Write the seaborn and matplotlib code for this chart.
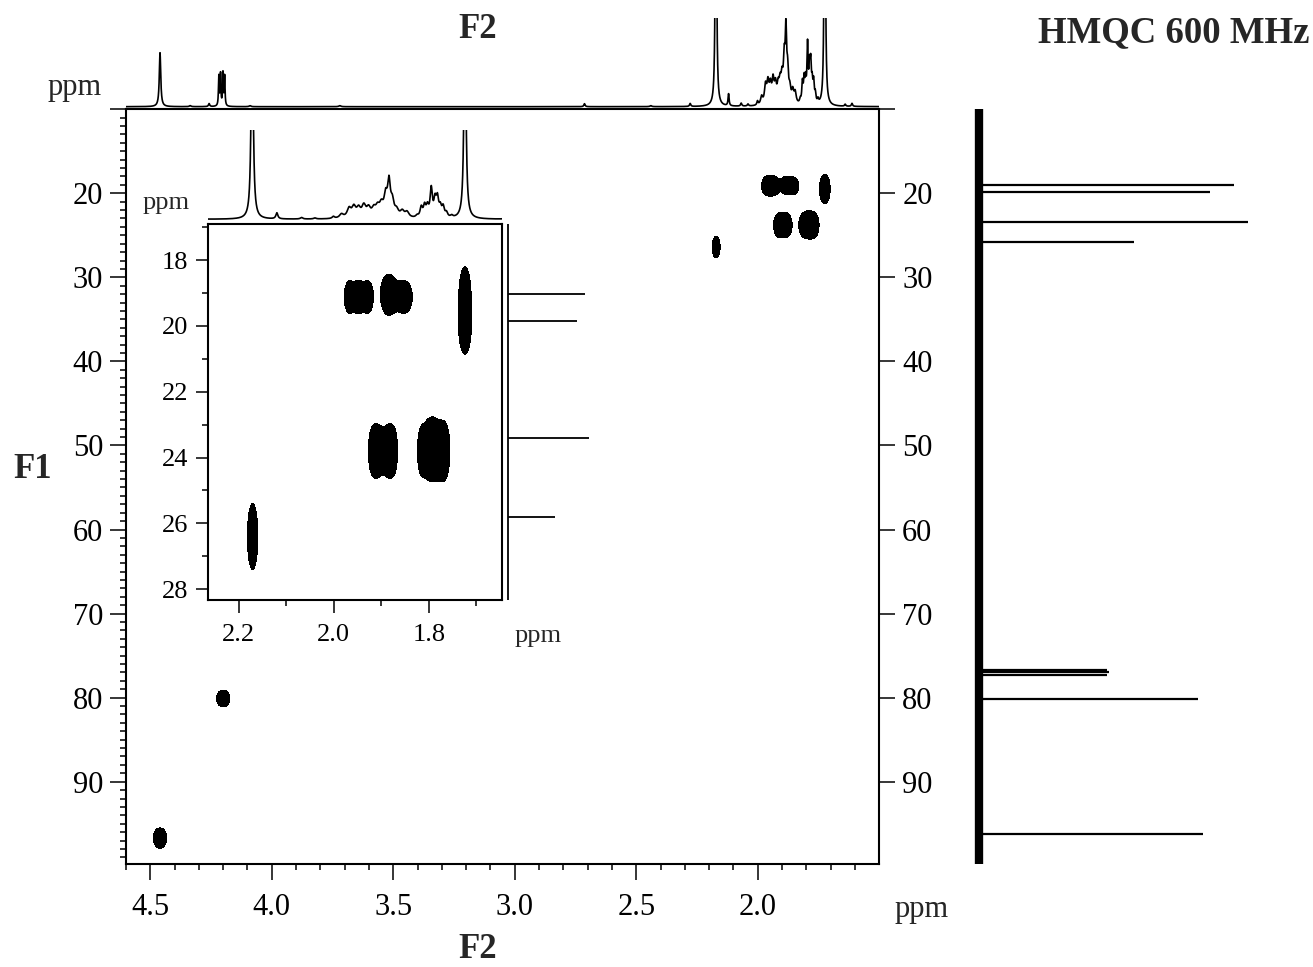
import numpy as np
import pandas as pd
import seaborn as sns
import matplotlib.pyplot as plt
from matplotlib.ticker import FixedLocator, MultipleLocator

# 1H projection: peak position (ppm), height (px of the main trace), half width (ppm)
h1_ppm = [4.460, 4.336, 4.258, 4.218, 4.211, 4.201, 4.194, 4.090, 3.720, 2.713, 2.440,
          2.278, 2.172, 2.120, 2.068, 2.040, 2.001, 1.984, 1.968, 1.958, 1.948, 1.937,
          1.927, 1.916, 1.908, 1.900, 1.891, 1.884, 1.877, 1.868, 1.856, 1.846, 1.825,
          1.816, 1.809, 1.803, 1.795, 1.787, 1.782, 1.776, 1.770, 1.763, 1.752, 1.724,
          1.640, 1.612]
h1_height = [54, 1, 3, 30, 32, 33, 30, 1, 1, 3, 1,
             3, 500, 12, 3, 2, 4, 8, 18, 20, 17, 22,
             17, 15, 17, 22, 38, 66, 28, 13, 12, 11, 4,
             20, 22, 20, 56, 32, 35, 18, 20, 9, 4, 500,
             2, 3]
h1_hwhm = [0.0035, 0.004, 0.003, 0.0018, 0.0018, 0.0018, 0.0018, 0.004, 0.005, 0.003, 0.004,
           0.003, 0.0022, 0.0025, 0.003, 0.003, 0.003, 0.005, 0.005, 0.005, 0.005, 0.005,
           0.005, 0.005, 0.005, 0.005, 0.004, 0.0035, 0.004, 0.005, 0.005, 0.005, 0.003,
           0.003, 0.003, 0.003, 0.0028, 0.003, 0.003, 0.003, 0.003, 0.003, 0.003, 0.0022,
           0.003, 0.003]

# 13C projection lines (ppm, length in px of the main trace)
c13_ppm = [19.02, 19.86, 23.42, 25.80, 76.75, 77.0, 77.25, 80.2, 96.2]
c13_height = [255, 231, 269, 155, 128, 130, 128, 219, 224]

# HMQC cross peaks: 1H ppm, 13C ppm, half extents (ppm)
cross_h = [4.460, 4.200, 2.171,
           1.968, 1.948, 1.928, 1.885, 1.850,
           1.918, 1.905, 1.888, 1.875,
           1.815, 1.800, 1.788, 1.775, 1.765,
           1.724, 1.724]
cross_c = [96.7, 80.1, 26.4,
           19.12, 19.12, 19.12, 19.05, 19.12,
           23.8, 23.8, 23.8, 23.8,
           23.8, 23.75, 23.75, 23.8, 23.8,
           18.9, 20.0]
cross_wh = [0.025, 0.025, 0.011,
            0.010, 0.010, 0.010, 0.017, 0.015,
            0.009, 0.009, 0.009, 0.009,
            0.009, 0.009, 0.009, 0.009, 0.009,
            0.010, 0.013]
cross_wc = [0.9, 0.6, 1.0,
            0.47, 0.47, 0.47, 0.62, 0.47,
            0.68, 0.68, 0.68, 0.68,
            0.7, 0.78, 0.78, 0.7, 0.7,
            0.65, 0.85]

W, H = 1313, 967
sns.set_style('ticks')
plt.rcParams['font.family'] = ['Liberation Serif', 'DejaVu Serif']
plt.rcParams['axes.linewidth'] = 1.5

fig = plt.figure(figsize=(W / 100, H / 100), dpi=100)


def box(x0, y0, x1, y1):
    # pixel box -> figure fraction rect
    return [x0 / W, 1 - y1 / H, (x1 - x0) / W, (y1 - y0) / H]


def spectrum(x):
    y = np.zeros_like(x)
    for p, h, w in zip(h1_ppm, h1_height, h1_hwhm):
        y += h / (1 + ((x - p) / w) ** 2)
    return y


def cross_map(hx, cy, broaden):
    HH, CC = np.meshgrid(hx, cy)
    Z = np.zeros_like(HH)
    for h, c, wh, wc in zip(cross_h, cross_c, cross_wh, cross_wc):
        sh = np.hypot(wh, broaden[0]) / 1.1774
        sc = np.hypot(wc, broaden[1]) / 1.1774
        Z += np.exp(-0.5 * ((HH - h) / sh) ** 2 - 0.5 * ((CC - c) / sc) ** 2)
    return HH, CC, Z


def hide(ax):
    ax.set_axis_off()
    ax.patch.set_alpha(0)


# ---- main 2D
xl, xr = 4.6, 1.4996
yt, yb = 10.0, 99.8
ax = fig.add_axes(box(126, 109.2, 879.3, 864.1))
hx = np.linspace(xl, xr, 1400)
cy = np.linspace(yt, yb, 1100)
HH, CC, Z = cross_map(hx, cy, (0.012, 0.8))
ax.contourf(HH, CC, Z, levels=[0.5, 1e3], colors='black')
ax.set_xlim(xl, xr)
ax.set_ylim(yb, yt)
ax.xaxis.set_major_locator(FixedLocator([4.5, 4.0, 3.5, 3.0, 2.5, 2.0]))
ax.xaxis.set_minor_locator(FixedLocator(np.round(np.arange(4.6, 1.55, -0.1), 2)))
ax.set_xticklabels(['4.5', '4.0', '3.5', '3.0', '2.5', '2.0'])
ax.yaxis.set_major_locator(FixedLocator(np.arange(10, 100, 10)))
ax.set_yticklabels([''] + [str(v) for v in range(20, 100, 10)])
ax.yaxis.set_minor_locator(MultipleLocator(1))
ax.tick_params(which='both', direction='out', width=1.1, colors='black')
ax.tick_params(which='major', length=11.5, labelsize=22)
ax.tick_params(which='minor', length=4.5)
ax.tick_params(axis='y', left=True, right=True, labelleft=True, labelright=True, pad=5)
ax.tick_params(axis='x', top=False, pad=9)
for s in ax.spines.values():
    s.set_linewidth(1.5)
    s.set_color('black')

# ---- main top 1H projection
axt = fig.add_axes(box(126, 18, 879.3, 108))
xs = np.linspace(xl, xr, 8000)
df_top = pd.DataFrame({'ppm': xs, 'int': spectrum(xs)})
sns.lineplot(data=df_top, x='ppm', y='int', ax=axt, color='black', lw=1.2,
             estimator=None, sort=False)
axt.set_xlim(xl, xr)
axt.set_ylim(-1.3, 88.7)
hide(axt)

# ---- main right 13C projection
axr = fig.add_axes(box(965, 109.2, 1262, 864.1))
axr.plot([0, 0], [yt, yb], color='black', lw=6, solid_capstyle='butt')
axr.hlines(c13_ppm, 0, c13_height, color='black', lw=1.6)
axr.set_xlim(-14, 283)
axr.set_ylim(yb, yt)
hide(axr)

# ---- inset 2D
ixl, ixr = 2.265, 1.646
iyt, iyb = 16.9, 28.33
axi = fig.add_axes(box(208, 224, 502, 600))
ihx = np.linspace(ixl, ixr, 700)
icy = np.linspace(iyt, iyb, 700)
IH, IC, IZ = cross_map(ihx, icy, (0.0, 0.0))
axi.contourf(IH, IC, IZ, levels=[0.5, 1e3], colors='black')
axi.set_xlim(ixl, ixr)
axi.set_ylim(iyb, iyt)
axi.xaxis.set_major_locator(FixedLocator([2.2, 2.0, 1.8]))
axi.set_xticklabels(['2.2', '2.0', '1.8'])
axi.xaxis.set_minor_locator(FixedLocator([2.1, 1.9, 1.7]))
axi.yaxis.set_major_locator(FixedLocator([18, 20, 22, 24, 26, 28]))
axi.yaxis.set_minor_locator(FixedLocator([17, 19, 21, 23, 25, 27]))
axi.tick_params(which='both', direction='out', width=1.1, colors='black')
axi.tick_params(which='major', length=9, labelsize=19)
axi.tick_params(which='minor', length=4.5)
axi.tick_params(axis='y', pad=5)
axi.tick_params(axis='x', pad=8)
for s in axi.spines.values():
    s.set_linewidth(1.5)
    s.set_color('black')

# ---- inset top 1H projection
ait = fig.add_axes(box(208, 130, 502, 221))
ixs = np.linspace(ixl, ixr, 4000)
df_in = pd.DataFrame({'ppm': ixs, 'int': spectrum(ixs)})
sns.lineplot(data=df_in, x='ppm', y='int', ax=ait, color='black', lw=1.2,
             estimator=None, sort=False)
ait.set_xlim(ixl, ixr)
ait.set_ylim(-3.4, 178.6)
hide(ait)

# ---- inset right 13C projection
air = fig.add_axes(box(503, 224, 600, 600))
air.plot([0, 0], [iyt, iyb], color='black', lw=1.3, solid_capstyle='butt')
sel = [i for i, p in enumerate(c13_ppm) if iyt < p < iyb]
air.hlines([c13_ppm[i] for i in sel], 0, [c13_height[i] for i in sel], color='black', lw=1.3)
air.set_xlim(-5 / 0.3, 92 / 0.3)
air.set_ylim(iyb, iyt)
hide(air)

# ---- labels
def label(x, y, s, size, **kw):
    fig.text(x / W, 1 - y / H, s, fontsize=size, ha=kw.pop('ha', 'center'), va='center', **kw)


label(478, 30, 'F2', 25, fontweight='bold')
label(478, 950, 'F2', 25, fontweight='bold')
label(33, 470, 'F1', 25, fontweight='bold')
label(1310, 33, 'HMQC 600 MHz', 26.5, fontweight='bold', ha='right')
label(75, 88, 'ppm', 22)
label(922, 909, 'ppm', 22)
label(166, 203, 'ppm', 19)
label(538, 636, 'ppm', 19)

plt.savefig('out.png', dpi=100)
